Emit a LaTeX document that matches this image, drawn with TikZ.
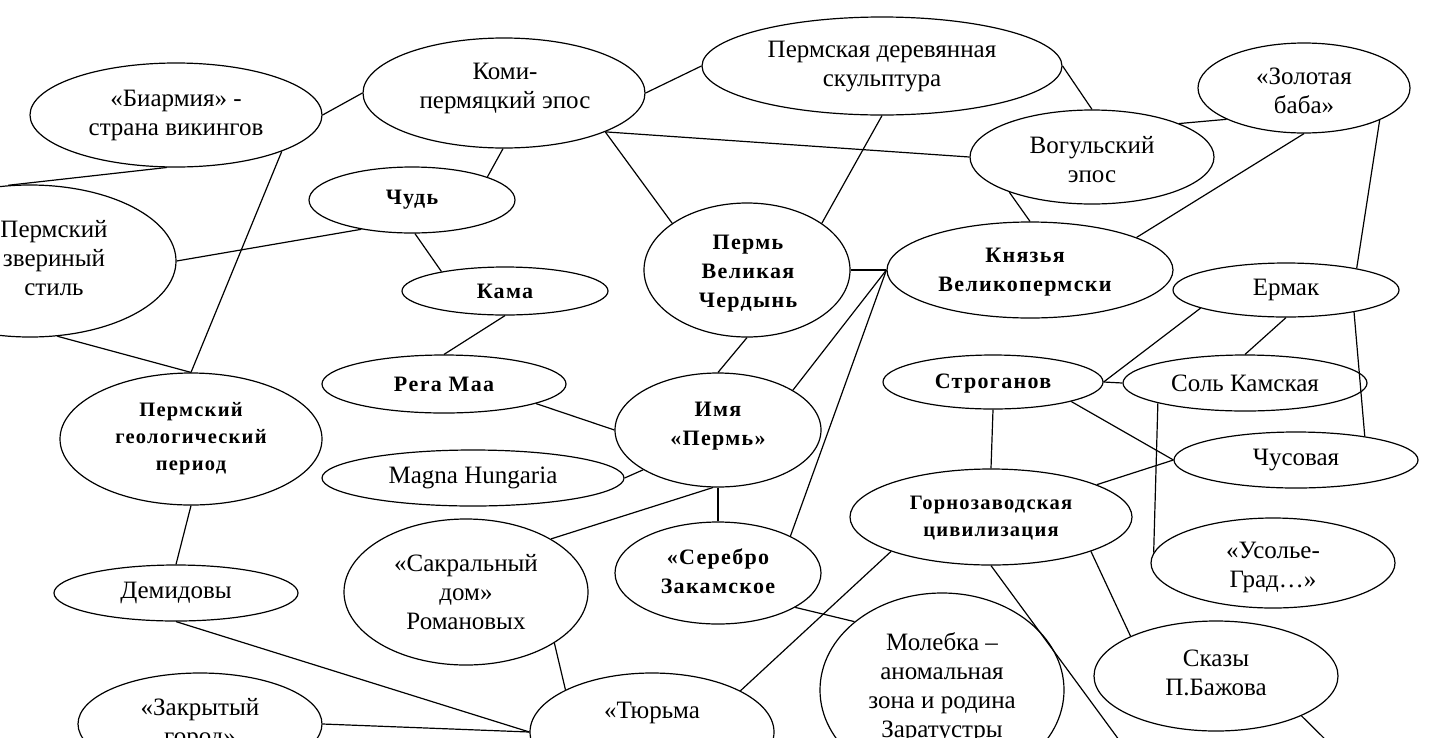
\documentclass[tikz,border=0pt]{standalone}
\usepackage{fontspec}
\setmainfont{Liberation Serif}
\newfontfamily\bxfam{Liberation Serif}[LetterSpace=6]
\usetikzlibrary{shapes.geometric}
\newcommand\rmf{\fontsize{25}{29}\selectfont}
\newcommand\bxf{\bxfam\bfseries\fontsize{22}{29}\selectfont}
\newcommand\bxs{\bxfam\bfseries\fontsize{20.5}{27}\selectfont}
\tikzset{
  ov/.style={draw, ellipse, inner sep=0pt, line width=1.2pt},
  tx/.style={align=center, inner sep=0pt, font=\rmf},
  bx/.style={align=center, inner sep=0pt, font=\bxf},
  bs/.style={align=center, inner sep=0pt, font=\bxs},
  ln/.style={line width=1.2pt}
}
\begin{document}
\begin{tikzpicture}[x=1pt,y=-1pt]
\useasboundingbox (0,0) rectangle (1439,737);
\clip (0,0) rectangle (1439,737);
\fill[white] (0,0) rectangle (1439,737);
% ellipses
\node[ov, minimum width=292, minimum height=104] (bia) at (176,115) {};
\node[ov, minimum width=282, minimum height=110] (komi) at (504,93) {};
\node[ov, minimum width=360, minimum height=98] (der) at (882,66) {};
\node[ov, minimum width=212, minimum height=90] (zol) at (1304,88) {};
\node[ov, minimum width=244, minimum height=94] (vog) at (1092,157) {};
\node[ov, minimum width=206, minimum height=66] (chud) at (412,200) {};
\node[ov, minimum width=292, minimum height=152] (zver) at (30,261) {};
\node[ov, minimum width=206, minimum height=134] (pv) at (747,270) {};
\node[ov, minimum width=286, minimum height=96] (kn) at (1030,270) {};
\node[ov, minimum width=206, minimum height=48] (kama) at (505,291) {};
\node[ov, minimum width=244, minimum height=58] (pera) at (444,384) {};
\node[ov, minimum width=206, minimum height=114] (imya) at (718,430) {};
\node[ov, minimum width=302, minimum height=56] (magna) at (473,478) {};
\node[ov, minimum width=262, minimum height=132] (geo) at (191,439) {};
\node[ov, minimum width=220, minimum height=54] (strog) at (993,382) {};
\node[ov, minimum width=244, minimum height=56] (sol) at (1245,383) {};
\node[ov, minimum width=226, minimum height=54] (ermak) at (1286,290) {};
\node[ov, minimum width=244, minimum height=56] (chus) at (1296,460) {};
\node[ov, minimum width=282, minimum height=96] (gorn) at (991,517) {};
\node[ov, minimum width=244, minimum height=90] (usol) at (1273,563) {};
\node[ov, minimum width=244, minimum height=110] (skaz) at (1216,676) {};
\node[ov, minimum width=244, minimum height=194] (moleb) at (942,690) {};
\node[ov, minimum width=206, minimum height=102] (ser) at (718,573) {};
\node[ov, minimum width=244, minimum height=146] (sak) at (466,592) {};
\node[ov, minimum width=244, minimum height=56] (dem) at (176,593) {};
\node[ov, minimum width=244, minimum height=102] (zak) at (200,724) {};
\node[ov, minimum width=244, minimum height=118] (tyur) at (652,732) {};
% texts
\node[tx] (tbia) at (176,115) {«Биармия» -\\страна викингов};
\node[tx] (tkomi) at (505,88) {Коми-\\пермяцкий эпос};
\node[tx] (tder) at (882,67) {Пермская деревянная\\скульптура};
\node[tx] (tzol) at (1304,91) {«Золотая\\баба»};
\node[tx] (tvog) at (1092,160) {Вогульский\\эпос};
\node[bx] (tchud) at (412,200) {Чудь};
\node[tx] (tzver) at (54,258) {Пермский\\звериный\\стиль};
\node[bx] (tpv) at (748,274) {Пермь\\Великая\\Чердынь};
\node[bx] (tkn) at (1025,272) {Князья\\Великопермски};
\node[bx] (tkama) at (505,291) {Кама};
\node[bx] (tpera) at (444,384) {Pera Maa};
\node[bx] (timya) at (718,426) {Имя\\«Пермь»};
\node[tx] (tmagna) at (473,478) {Magna Hungaria};
\node[bs] (tgeo) at (191,439) {Пермский\\геологический\\период};
\node[bx] (tstrog) at (993,384) {Строганов};
\node[tx] (tsol) at (1245,383) {Соль Камская};
\node[tx] (termak) at (1286,290) {Ермак};
\node[tx] (tchus) at (1296,460) {Чусовая};
\node[bs] (tgorn) at (991,518) {Горнозаводская\\цивилизация};
\node[tx] (tusol) at (1273,567) {«Усолье-\\Град…»};
\node[tx] (tskaz) at (1216,673) {Сказы\\П.Бажова};
\node[tx] (tmoleb) at (942,688) {Молебка –\\аномальная\\зона и родина\\Заратустры};
\node[bx] (tser) at (718,571) {«Серебро\\Закамское};
\node[tx] (tsak) at (466,592) {«Сакральный\\дом»\\Романовых};
\node[tx] (tdem) at (176,593) {Демидовы};
\node[tx] (tzak) at (200,724) {«Закрытый\\город»};
\node[tx] (ttyur) at (652,713) {«Тюрьма};
% free ends
\coordinate (e1) at (1122,744);
\coordinate (e2) at (1333,747);
% connectors
\draw[ln] (bia.0) -- (komi.180);
\draw[ln] (bia.-100) -- (zver.106);
\draw[ln] (bia.-19.6) -- (geo.90);
\draw[ln] (zver.0) -- (chud.-150);
\draw[ln] (zver.-70) -- (geo.90);
\draw[ln] (komi.-91) -- (chud.17);
\draw[ln] (komi.-21) -- (pv.148);
\draw[ln] (komi.-21) -- (vog.180);
\draw[ln] (komi.0) -- (der.180);
\draw[ln] (der.-90) -- (pv.32);
\draw[ln] (der.0) -- (vog.90);
\draw[ln] (vog.21) -- (zol.202);
\draw[ln] (vog.-157.6) -- (kn.90);
\draw[ln] (zol.-90) -- (kn.17.8);
\draw[ln] (zol.-23) -- (ermak.17);
\draw[ln] (ermak.-18.6) -- (chus.19);
\draw[ln] (pv.0) -- (kn.180);
\draw[ln] (kn.180) -- (imya.28.4);
\draw[ln] (kn.180) -- (ser.27.5);
\draw[ln] (pv.-90) -- (imya.90);
\draw[ln] (chud.-85) -- (kama.163);
\draw[ln] (kama.-90) -- (pera.90);
\draw[ln] (pera.-12.2) -- (imya.180);
\draw[ln] (magna.0) -- (imya.208);
\draw[ln] (imya.-90) -- (ser.90);
\draw[ln] (imya.-95) -- (sak.32);
\draw[ln] (sak.-30) -- (tyur.154);
\draw[ln] (ser.-24.7) -- (moleb.142);
\draw[ln] (gorn.199.5) -- (tyur.25.5);
\draw[ln] (gorn.-90) -- (e1);
\draw[ln] (gorn.-19) -- (skaz.155.6);
\draw[ln] (skaz.-25) -- (e2);
\draw[ln] (strog.-90) -- (gorn.90);
\draw[ln] (strog.0) -- (sol.180);
\draw[ln] (strog.0) -- (ermak.192.8);
\draw[ln] (strog.-14.9) -- (chus.180);
\draw[ln] (gorn.17.4) -- (chus.180);
\draw[ln] (sol.193) -- (usol.175);
\draw[ln] (ermak.-90) -- (sol.90);
\draw[ln] (dem.90) -- (geo.-90);
\draw[ln] (dem.-90) -- (tyur.180);
\draw[ln] (zak.0) -- (tyur.180);
\end{tikzpicture}
\end{document}
